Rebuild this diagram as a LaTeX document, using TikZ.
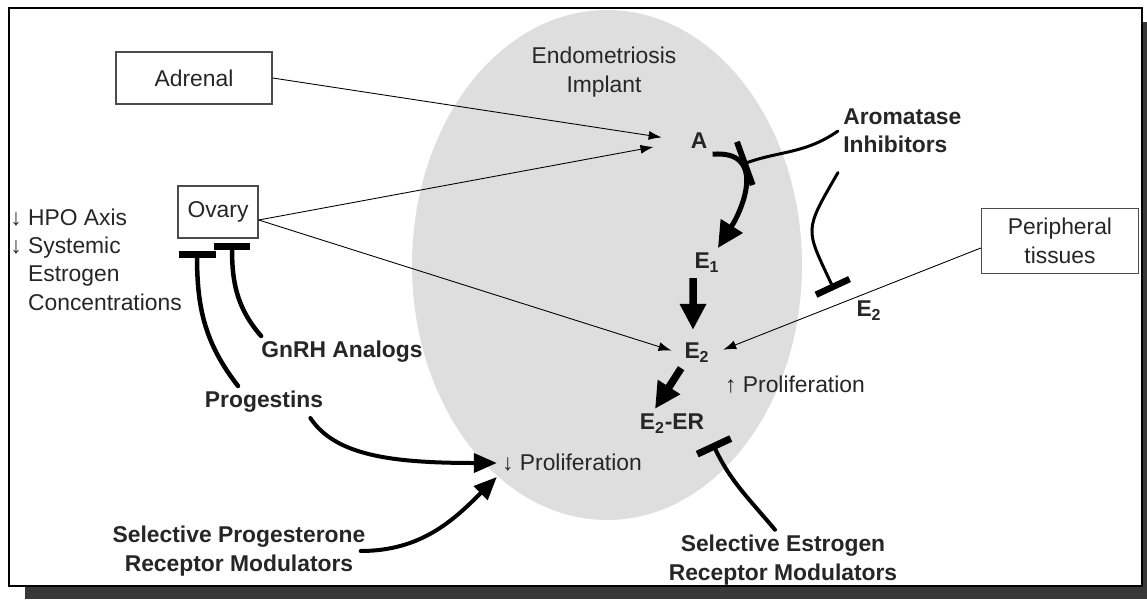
\documentclass[tikz,border=0pt]{standalone}
\usepackage{fontspec}
\setmainfont{Liberation Sans}
\usepackage{tikz}
\usetikzlibrary{arrows.meta}
\usetikzlibrary{positioning}
\tikzset{
    txt/.style={
           font=\fontsize{13}{16.2}\selectfont,
           text=black!85,
           inner sep=0.1cm,
           align=center,
           },
    bold/.style={
           txt,
           font=\fontsize{13}{16.2}\selectfont\bfseries,
           },
    box/.style={
           txt,
           draw=black!70, line width=0.8pt,
           fill=white,
           },
    thinarrow/.style={-{Latex[length=0.26cm,width=0.18cm]}, line width=0.5pt},
    bigarrow/.style={-{Triangle[length=0.52cm,width=0.5cm]}, line width=0.15cm},
    curvearrow/.style={-{Triangle[length=0.46cm,width=0.38cm]}, line width=0.08cm, line cap=round},
    blocker/.style={-{Bar[width=0.74cm,line width=0.14cm 0]}, line width=0.09cm, line cap=round},
    thinblocker/.style={-{Bar[width=0.74cm,line width=0.13cm 0]}, line width=0.06cm, line cap=round},
}

\begin{document}
\begin{tikzpicture}[x=0.02cm, y=-0.02cm]
\useasboundingbox (0,0) rectangle (1147,599);
\fill[black!78] (25,22) rectangle (1147,599);
\draw[fill=white, line width=1.2pt] (9,8) rectangle (1142,586);
\fill[black!13] (607,265) ellipse [x radius=3.9cm, y radius=5.1cm];

\node[box, minimum width=3.12cm, minimum height=1.04cm] (adrenal) at (194,78) {Adrenal};
\node[box, minimum width=1.6cm, minimum height=1.04cm] (ovary) at (218,212) {Ovary};
\node[box, minimum width=3.14cm, minimum height=1.3cm] (periph) at (1060,241) {Peripheral\\tissues};
\node[txt] (implant) at (604,72) {Endometriosis\\Implant};
\node[txt, anchor=west, inner sep=0pt, align=left] (hpo) at (10,262) {%
  \begin{tabular}{@{}l@{ }l@{}}
  ↓ & HPO Axis\\
  ↓ & Systemic\\
    & Estrogen\\
    & Concentrations
  \end{tabular}};

\node[bold] (a) at (699,141) {A};
\node[bold] (e1) at (707,263) {E\textsubscript{1}};
\node[bold] (e2) at (697,353) {E\textsubscript{2}};
\node[bold] (e2p) at (869,311) {E\textsubscript{2}};
\node[bold] (e2er) at (672,424) {E\textsubscript{2}-ER};
\node[txt] (upprolif) at (795,385) {↑ Proliferation};
\node[txt] (downprolif) at (572,463) {↓ Proliferation};
\node[bold, anchor=west, align=left] (ai) at (838,131) {Aromatase\\Inhibitors};
\node[bold] (gnrh) at (342,352) {GnRH Analogs};
\node[bold] (prog) at (264,402) {Progestins};
\node[bold] (sprm) at (239,551) {Selective Progesterone\\Receptor Modulators};
\node[bold] (serm) at (783,560) {Selective Estrogen\\Receptor Modulators};

\draw[thinarrow, shorten >=0.48cm] (adrenal.east) -- (a.west);
\draw[thinarrow, shorten >=0.65cm] ([yshift=-0.16cm]ovary.east) -- (a.west);
\draw[thinarrow, shorten >=0.16cm] ([yshift=-0.16cm]ovary.east) -- (e2.west);
\draw[thinarrow, shorten >=0.18cm] ([yshift=-0.14cm]periph.west) -- (e2.east);

\draw[bigarrow, line width=0.1cm] (a.south east) .. controls (765,150) and (745,205) .. ([xshift=0.22cm]e1.north) coordinate[pos=0.3] (cut);
\draw[bigarrow] ([xshift=-0.28cm]e1.south) -- ([xshift=-0.08cm,yshift=0.16cm]e2.north);
\draw[bigarrow] ([xshift=0.04cm]e2.south west) -- ([xshift=-0.34cm]e2er.north);

\draw[thinblocker, -{Bar[width=0.92cm,line width=0.12cm 0]}] (ai.west) to[out=215, in=20] (cut);
\draw[thinblocker] ([yshift=-0.28cm]ai.south west) to[out=240, in=115, looseness=1.5] ([xshift=-0.34cm,yshift=0.12cm]e2p.north west);

\draw[blocker] ([xshift=-0.52cm]prog.north) to[out=128, in=-90] ([xshift=-0.42cm,yshift=-0.24cm]ovary.south);
\draw[blocker] ([xshift=0.1cm]gnrh.north west) to[out=131, in=-90] ([xshift=0.28cm,yshift=-0.08cm]ovary.south);
\draw[blocker, line width=0.08cm] ([xshift=-0.16cm]serm.north) to[out=130, in=-65] ([xshift=0.06cm,yshift=-0.08cm]e2er.south east);

\draw[curvearrow] ([xshift=-0.36cm]prog.south east) .. controls (335,455) and (390,463) .. (downprolif.west);
\draw[curvearrow] ([xshift=-0.2cm]sprm.east) to[out=0, in=225] (downprolif.south west);
\end{tikzpicture}
\end{document}
